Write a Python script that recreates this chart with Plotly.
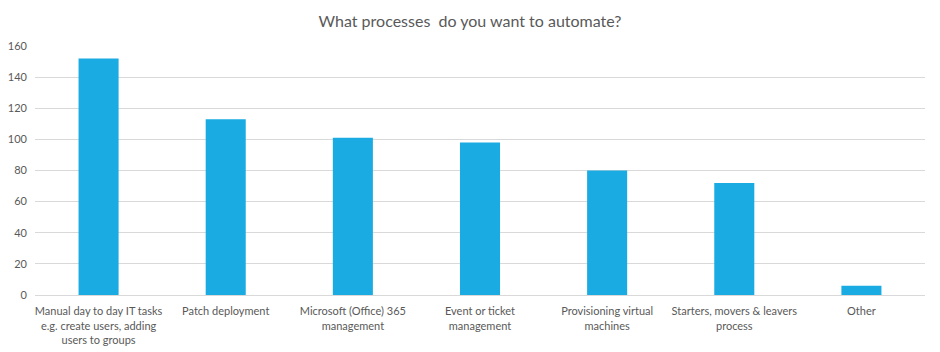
import plotly.graph_objects as go

categories = [
    "Manual day to day IT tasks<br>e.g. create users, adding<br>users to groups",
    "Patch deployment",
    "Microsoft (Office) 365<br>management",
    "Event or ticket<br>management",
    "Provisioning virtual<br>machines",
    "Starters, movers & leavers<br>process",
    "Other",
]
values = [152, 113, 101, 98, 80, 72, 6]
y_ticks = [0, 20, 40, 60, 80, 100, 120, 140, 160]

fig = go.Figure(go.Bar(x=categories, y=values, marker=dict(color="#1AABE2", line=dict(width=0))))

fig.update_layout(
    width=940, height=352,
    margin=dict(l=35, r=15, t=46, b=57),
    paper_bgcolor="white", plot_bgcolor="white",
    title=dict(text="What processes  do you want to automate?", x=0.5, xanchor="center",
               y=0.94, yanchor="middle",
               font=dict(family="Lato", size=16, color="#595959")),
    bargap=0.685,
    font=dict(family="Lato", size=11, color="#595959"),
    showlegend=False,
)
fig.update_xaxes(showline=True, linecolor="#D9D9D9", linewidth=1, ticks="",
                 tickfont=dict(size=11), ticklabelstandoff=6, automargin=False)
fig.update_yaxes(range=[0, 160], tickvals=y_ticks, showgrid=True, gridcolor="#D9D9D9",
                 zeroline=False, showline=False, ticks="", tickfont=dict(size=11),
                 ticklabelstandoff=7, automargin=False)

fig.write_html("out.html")
